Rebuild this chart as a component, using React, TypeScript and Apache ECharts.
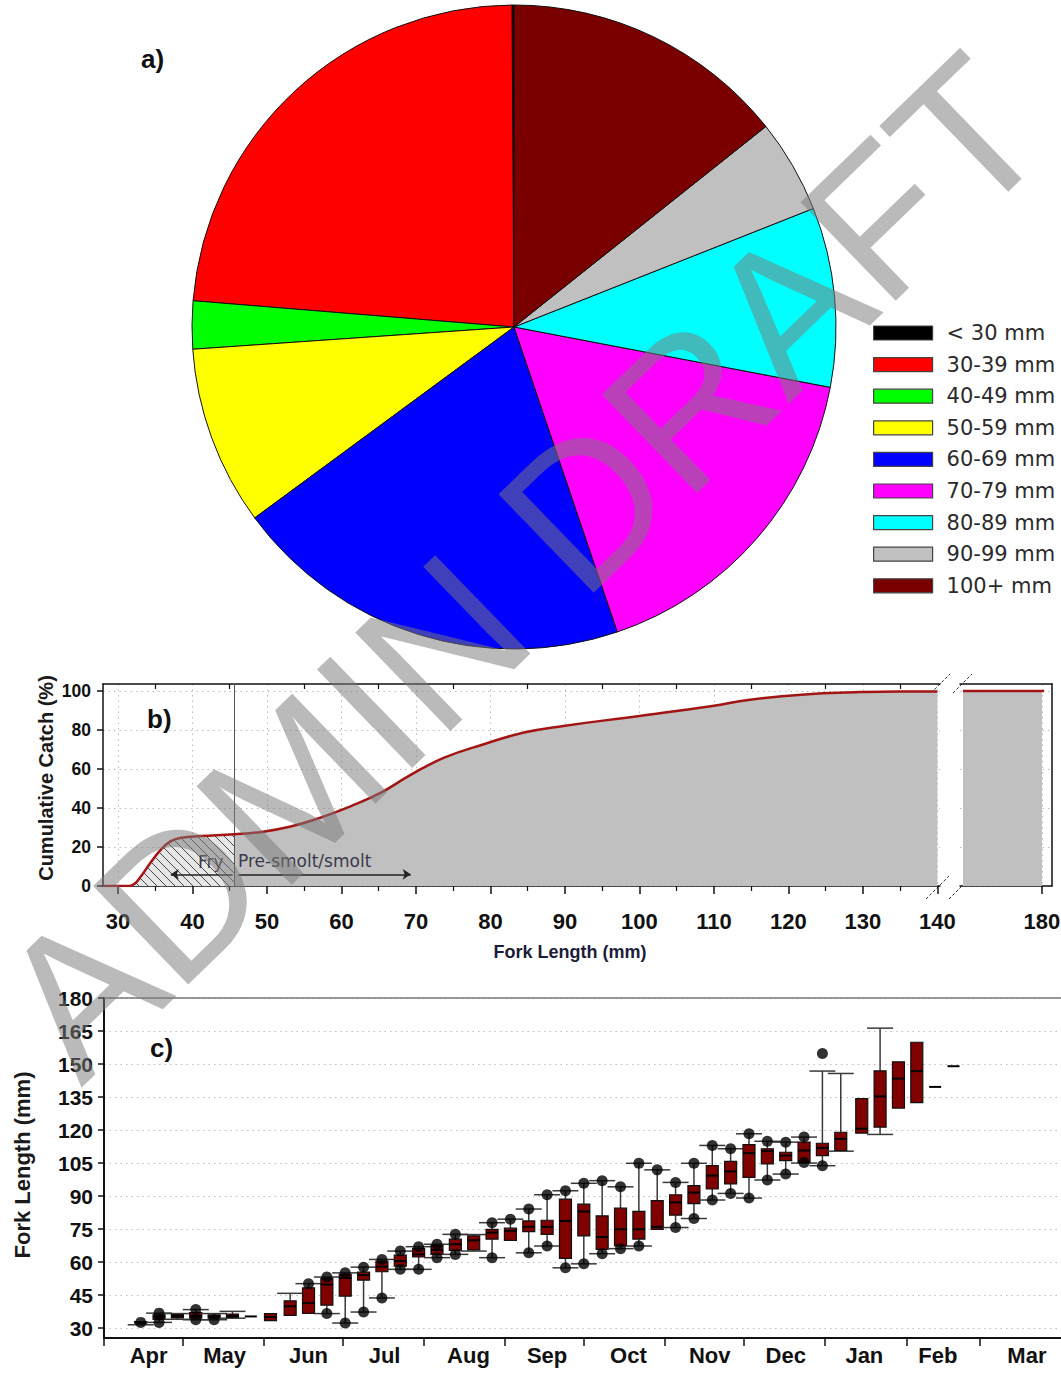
import React, { useEffect, useRef } from "react";
import * as echarts from "echarts";

// ---------- panel a: size-class shares (%) ----------
const PIE_LABELS = ["< 30 mm", "30-39 mm", "40-49 mm", "50-59 mm", "60-69 mm", "70-79 mm", "80-89 mm", "90-99 mm", "100+ mm"];
const PIE_SHARES = [0.1, 23.6, 2.4, 9.0, 20.1, 16.8, 9.0, 4.7, 14.3];
const PIE_COLORS = ["#000000", "#ff0000", "#00ff00", "#ffff00", "#0000ff", "#ff00ff", "#00ffff", "#c0c0c0", "#7a0000"];

// ---------- panel b: cumulative catch ----------
const CUM_LENGTH = [28, 31.5, 32.2, 33.1, 34.4, 35.8, 37.1, 38.5, 41.1, 45.6, 49.2, 53.2, 57.2, 61.3, 65.3, 69.3, 73.8, 79.1, 84.5, 89.8, 100, 109.8, 114.6, 119.6, 124.6, 129.6, 135, 140];
const CUM_PCT = [0, 0, 1, 5, 12, 18.8, 23, 24.8, 25.6, 26.5, 27.7, 30.5, 35.1, 41, 47.9, 57, 65.8, 72.7, 78.7, 82.1, 87.2, 92.3, 95.4, 97.4, 98.8, 99.5, 99.8, 99.8];
const CUM_TAIL_LENGTH = [169.4, 180.3];
const CUM_TAIL_PCT = [100, 100];
const FRY_CUTOFF = 45.6;
const HATCH_START = 31.5;
const B_X_TICKS = [30, 40, 50, 60, 70, 80, 90, 100, 110, 120, 130, 140];
const B_X_MINOR = [35, 45, 55, 65, 75, 85, 95, 105, 115, 125, 135];
const B_TAIL_TICKS = [180];
const B_Y_TICKS = [0, 20, 40, 60, 80, 100];

// ---------- panel c: weekly fork length box plots (day 0 = 1 Apr) ----------
const MONTHS = ["Apr", "May", "Jun", "Jul", "Aug", "Sep", "Oct", "Nov", "Dec", "Jan", "Feb", "Mar"];
const MONTH_STARTS = [0, 30, 61, 91, 122, 153, 183, 214, 244, 275, 306, 334];
const MONTH_LABEL_POS = [17, 46, 78, 107, 139, 169, 200, 231, 260, 290, 318, 352];
const C_Y_TICKS = [30, 45, 60, 75, 90, 105, 120, 135, 150, 165, 180];

const BOX_DAYS = [14, 21, 28, 35, 42, 49, 56, 63.5, 71, 78, 85, 92, 99, 106, 113, 120, 127, 134, 141, 148, 155, 162, 169, 176, 183, 190, 197, 204, 211, 218, 225, 232, 239, 246, 253, 260, 267, 274, 281, 289, 296, 303, 310, 317, 324];
const BOX_LOW = [31.5, 32.6, 34.0, 33.8, 33.8, 34.5, 35.3, 33.4, 35.8, 36.7, 36.6, 32.3, 37.3, 43.7, 56.7, 56.7, 62.0, 63.5, 65.0, 62.0, 69.9, 64.2, 67.3, 57.4, 59.2, 63.8, 66.1, 67.3, 74.9, 75.7, 79.8, 88.2, 91.2, 89.1, 97.3, 100.0, 105.0, 103.8, 110.4, 118.6, 118.0, 130.0, 132.5, 139.6, 149.0];
const BOX_Q1 = [32.2, 34.0, 34.6, 34.5, 34.5, 34.9, 35.3, 33.4, 35.8, 36.7, 40.4, 44.5, 51.8, 55.6, 58.2, 62.3, 63.5, 65.3, 65.5, 70.4, 69.9, 73.8, 72.6, 61.7, 71.9, 65.8, 67.3, 70.4, 74.9, 81.3, 86.6, 93.2, 95.5, 98.5, 104.6, 106.1, 105.3, 108.4, 110.7, 118.6, 121.3, 130.0, 132.5, 139.6, 149.0];
const BOX_MEDIAN = [32.6, 35.2, 35.4, 35.5, 35.2, 35.6, 35.3, 35.0, 39.9, 41.4, 49.8, 52.8, 54.1, 57.9, 60.5, 63.5, 65.5, 68.1, 69.9, 73.4, 74.2, 76.0, 76.0, 78.7, 83.0, 71.4, 74.9, 74.9, 76.0, 87.1, 91.6, 99.3, 101.2, 109.5, 110.5, 108.4, 110.7, 111.9, 116.0, 120.6, 135.3, 143.4, 146.8, 139.6, 149.0];
const BOX_Q3 = [33.0, 36.0, 36.1, 37.0, 36.0, 36.4, 35.3, 36.6, 42.4, 48.3, 52.6, 54.4, 55.4, 60.5, 63.2, 66.2, 67.5, 70.4, 71.9, 74.9, 75.4, 78.7, 79.0, 88.6, 86.3, 81.0, 84.5, 83.0, 87.9, 90.6, 94.7, 103.8, 105.8, 113.4, 111.5, 109.9, 114.5, 114.0, 119.0, 134.3, 146.9, 151.0, 159.9, 139.6, 149.0];
const BOX_HIGH = [33.0, 36.8, 36.6, 38.4, 36.6, 37.6, 35.3, 36.6, 45.8, 50.2, 53.2, 55.1, 57.7, 61.2, 65.0, 67.0, 68.1, 72.6, 72.5, 77.9, 79.5, 84.1, 90.6, 92.4, 95.8, 97.0, 94.2, 104.9, 101.9, 96.2, 104.9, 113.0, 111.5, 118.3, 114.9, 114.5, 116.8, 146.8, 145.7, 134.3, 166.3, 151.0, 159.9, 139.6, 149.0];
const DOTS = [
  [14, 32.6], [21, 32.6], [21, 36.8], [35, 33.8], [35, 38.4], [42, 33.8], [78, 50.2], [85, 36.6], [85, 53.2],
  [92, 32.3], [92, 55.1], [99, 37.3], [99, 57.7], [106, 43.7], [106, 61.2], [113, 56.7], [113, 65.0],
  [120, 56.7], [120, 67.0], [127, 62.0], [127, 68.1], [134, 63.5], [134, 72.6], [148, 62.0], [148, 77.9],
  [155, 79.5], [162, 64.2], [162, 84.1], [169, 67.3], [169, 90.6], [176, 57.4], [176, 92.4], [183, 59.2],
  [183, 95.8], [190, 63.8], [190, 97.0], [197, 66.1], [197, 94.2], [204, 67.3], [204, 104.9], [211, 101.9],
  [218, 75.7], [218, 96.2], [225, 79.8], [225, 104.9], [232, 88.2], [232, 113.0], [239, 91.2], [239, 111.5],
  [246, 89.1], [246, 118.3], [253, 97.3], [253, 114.9], [260, 100.0], [260, 114.5], [267, 105.3], [267, 116.8],
  [274, 103.8], [274, 154.8],
];

const ARIAL = '"Liberation Sans", Arial, sans-serif';
const DEJAVU = '"DejaVu Sans", sans-serif';
const DOTTED = { color: "#bdbdbd", width: 1, type: [1.5, 4] as any };

function makeHatch(): HTMLCanvasElement {
  const c = document.createElement("canvas");
  c.width = 9;
  c.height = 9;
  const ctx = c.getContext("2d")!;
  ctx.fillStyle = "#e6e6e6";
  ctx.fillRect(0, 0, 9, 9);
  ctx.strokeStyle = "#4a4a4a";
  ctx.lineWidth = 1;
  ctx.beginPath();
  ctx.moveTo(-1, -1);
  ctx.lineTo(10, 10);
  ctx.stroke();
  return c;
}

function renderBox(params: any, api: any) {
  const day = api.value(0);
  const lo = api.value(1), q1 = api.value(2), med = api.value(3), q3 = api.value(4), hi = api.value(5);
  const pLo = api.coord([day, lo]);
  const x = pLo[0];
  const yLo = pLo[1];
  const yQ1 = api.coord([day, q1])[1];
  const yMed = api.coord([day, med])[1];
  const yQ3 = api.coord([day, q3])[1];
  const yHi = api.coord([day, hi])[1];
  const bw = 12, cw = 26;
  const ws = { stroke: "#3a3a3a", lineWidth: 1.5 };
  const children: any[] = [];
  if (hi > q3) {
    children.push({ type: "line", shape: { x1: x, y1: yQ3, x2: x, y2: yHi }, style: ws });
    children.push({ type: "line", shape: { x1: x - cw / 2, y1: yHi, x2: x + cw / 2, y2: yHi }, style: ws });
  }
  if (lo < q1) {
    children.push({ type: "line", shape: { x1: x, y1: yQ1, x2: x, y2: yLo }, style: ws });
    children.push({ type: "line", shape: { x1: x - cw / 2, y1: yLo, x2: x + cw / 2, y2: yLo }, style: ws });
  }
  if (q3 > q1) {
    children.push({
      type: "rect",
      shape: { x: x - bw / 2, y: yQ3, width: bw, height: yQ1 - yQ3 },
      style: { fill: "#800000", stroke: "#111", lineWidth: 1.2 },
    });
  }
  children.push({ type: "line", shape: { x1: x - bw / 2, y1: yMed, x2: x + bw / 2, y2: yMed }, style: { stroke: "#000", lineWidth: 2 } });
  return { type: "group", children };
}

export default function App() {
  const ref = useRef<HTMLDivElement>(null);

  useEffect(() => {
    if (!ref.current) return;
    const chart = echarts.init(ref.current, null, { renderer: "svg" });
    const hatch = makeHatch();

    const cum = CUM_LENGTH.map((x, i) => [x, CUM_PCT[i]]);
    const hatchData = cum.filter((p) => p[0] >= HATCH_START && p[0] <= FRY_CUTOFF);
    const grayData = cum.filter((p) => p[0] >= FRY_CUTOFF);
    const tail = CUM_TAIL_LENGTH.map((x, i) => [x, CUM_TAIL_PCT[i]]);
    const boxes = BOX_DAYS.map((d, i) => [d, BOX_LOW[i], BOX_Q1[i], BOX_MEDIAN[i], BOX_Q3[i], BOX_HIGH[i]]);

    const blackLine = { lineStyle: { color: "#111", width: 1.5 } };
    const SMOOTH = 0.45;

    const option: any = {
      animation: false,
      backgroundColor: "#ffffff",
      legend: {
        show: true,
        orient: "vertical",
        left: 873,
        top: 322,
        padding: 0,
        itemWidth: 59,
        itemHeight: 14,
        itemGap: 9.6,
        icon: "rect",
        selectedMode: false,
        data: PIE_LABELS,
        itemStyle: { borderColor: "#444", borderWidth: 1.2 },
        textStyle: { fontFamily: DEJAVU, fontSize: 21, color: "#2b2b2b", lineHeight: 22, padding: [0, 0, 0, 9] },
      },
      grid: [
        { left: 103, top: 684, width: 837, height: 202, outerBoundsMode: "none" },
        { left: 960, top: 684, width: 92, height: 202, outerBoundsMode: "none" },
        { left: 104, top: 998, width: 957, height: 340, outerBoundsMode: "none" },
      ],
      xAxis: [
        {
          gridIndex: 0, type: "value", min: 28, max: 140.35, position: "bottom",
          axisLine: { show: true, ...blackLine },
          axisTick: { show: true, customValues: B_X_TICKS, length: 8, lineStyle: { color: "#111", width: 1.5 } },
          axisLabel: { customValues: B_X_TICKS, fontFamily: ARIAL, fontWeight: "bold", fontSize: 22, color: "#111", margin: 24 },
          splitLine: { show: true, lineStyle: DOTTED },
        },
        {
          gridIndex: 0, type: "value", min: 28, max: 140.35, position: "bottom",
          axisLine: { show: false },
          axisTick: { show: true, customValues: B_X_MINOR, length: 5, lineStyle: { color: "#111", width: 1.2 } },
          axisLabel: { show: false },
          splitLine: { show: false },
        },
        {
          gridIndex: 0, type: "value", min: 28, max: 140.35, position: "top",
          axisLine: { show: true, ...blackLine },
          axisTick: { show: true, inside: true, customValues: B_X_MINOR, length: 5, lineStyle: { color: "#111", width: 1.2 } },
          axisLabel: { show: false },
          splitLine: { show: false },
        },
        {
          gridIndex: 1, type: "value", min: 169, max: 181.35, position: "bottom",
          axisLine: { show: true, ...blackLine },
          axisTick: { show: true, customValues: B_TAIL_TICKS, length: 8, lineStyle: { color: "#111", width: 1.5 } },
          axisLabel: { customValues: B_TAIL_TICKS, fontFamily: ARIAL, fontWeight: "bold", fontSize: 22, color: "#111", margin: 24 },
          splitLine: { show: true, lineStyle: DOTTED },
        },
        {
          gridIndex: 1, type: "value", min: 169, max: 181.35, position: "top",
          axisLine: { show: true, ...blackLine },
          axisTick: { show: false },
          axisLabel: { show: false },
          splitLine: { show: false },
        },
        {
          gridIndex: 2, type: "value", min: 0, max: 365, position: "bottom",
          axisLine: { show: true, lineStyle: { color: "#111", width: 2 } },
          axisTick: { show: true, customValues: MONTH_STARTS, length: 8, lineStyle: { color: "#111", width: 1.5 } },
          axisLabel: {
            customValues: MONTH_LABEL_POS,
            formatter: (v: number) => MONTHS[MONTH_LABEL_POS.indexOf(v)] ?? "",
            fontFamily: ARIAL, fontWeight: "bold", fontSize: 22, color: "#111", margin: 6,
          },
          splitLine: { show: false },
        },
        {
          gridIndex: 2, type: "value", min: 0, max: 365, position: "top",
          axisLine: { show: true, lineStyle: { color: "#777", width: 1.5 } },
          axisTick: { show: false },
          axisLabel: { show: false },
          splitLine: { show: false },
        },
      ],
      yAxis: [
        {
          gridIndex: 0, type: "value", min: 0, max: 103.6, position: "left",
          axisLine: { show: true, ...blackLine },
          axisTick: { show: true, customValues: B_Y_TICKS, length: 6, lineStyle: { color: "#111", width: 1.5 } },
          axisLabel: { customValues: B_Y_TICKS, fontFamily: ARIAL, fontWeight: "bold", fontSize: 17.5, color: "#111", margin: 12 },
          splitLine: { show: true, lineStyle: DOTTED },
        },
        {
          gridIndex: 1, type: "value", min: 0, max: 103.6, position: "right",
          axisLine: { show: true, ...blackLine },
          axisTick: { show: false, customValues: B_Y_TICKS },
          axisLabel: { show: false },
          splitLine: { show: true, lineStyle: DOTTED },
        },
        {
          gridIndex: 2, type: "value", min: 25.5, max: 180, position: "left",
          axisLine: { show: true, lineStyle: { color: "#111", width: 2 } },
          axisTick: { show: true, customValues: C_Y_TICKS, length: 6, lineStyle: { color: "#111", width: 1.5 } },
          axisLabel: { customValues: C_Y_TICKS, fontFamily: ARIAL, fontWeight: "bold", fontSize: 21, color: "#111", margin: 11 },
          splitLine: { show: true, lineStyle: DOTTED },
        },
      ],
      series: [
        {
          type: "pie",
          center: [514, 327],
          radius: 322,
          startAngle: 90,
          clockwise: false,
          silent: true,
          label: { show: false },
          labelLine: { show: false },
          emphasis: { disabled: true },
          itemStyle: { borderColor: "#111", borderWidth: 1 },
          data: PIE_LABELS.map((name, i) => ({ name, value: PIE_SHARES[i], itemStyle: { color: PIE_COLORS[i] } })),
        },
        {
          type: "line", xAxisIndex: 2, yAxisIndex: 0, data: hatchData, showSymbol: false, symbol: "none",
          smooth: SMOOTH, silent: true, z: 2,
          lineStyle: { width: 0, opacity: 0 },
          areaStyle: { color: { image: hatch, repeat: "repeat" }, opacity: 1 },
          markLine: {
            silent: true,
            symbol: ["none", "none"],
            label: { show: false },
            lineStyle: { color: "#555", width: 1, type: "solid" },
            data: [{ xAxis: FRY_CUTOFF }],
          },
        },
        {
          type: "line", xAxisIndex: 2, yAxisIndex: 0, data: grayData, showSymbol: false, symbol: "none",
          smooth: SMOOTH, silent: true, z: 2,
          lineStyle: { width: 0, opacity: 0 },
          areaStyle: { color: "#c0c0c0", opacity: 1 },
        },
        {
          type: "line", xAxisIndex: 2, yAxisIndex: 0, data: cum, showSymbol: false, symbol: "none",
          smooth: SMOOTH, silent: true, z: 5,
          lineStyle: { color: "#a31515", width: 2.5 },
          markLine: {
            silent: true,
            symbol: ["none", "arrow"],
            symbolSize: 8,
            label: { show: false },
            lineStyle: { color: "#222", width: 1.5, type: "solid" },
            data: [
              [{ coord: [45.4, 6] }, { coord: [37.1, 6] }],
              [{ coord: [46.2, 6] }, { coord: [69.3, 6] }],
            ],
          },
        },
        {
          type: "line", xAxisIndex: 4, yAxisIndex: 1, data: tail.map((p) => [Math.min(p[0], 180), p[1]]),
          showSymbol: false, symbol: "none", silent: true, z: 2,
          lineStyle: { width: 0, opacity: 0 },
          areaStyle: { color: "#c0c0c0", opacity: 1 },
        },
        {
          type: "line", xAxisIndex: 4, yAxisIndex: 1, data: tail, showSymbol: false, symbol: "none",
          silent: true, z: 5, lineStyle: { color: "#a31515", width: 2.5 },
        },
        {
          type: "custom", xAxisIndex: 5, yAxisIndex: 2, data: boxes, renderItem: renderBox,
          encode: { x: 0, y: [1, 2, 3, 4, 5] }, silent: true, z: 3, clip: false,
        },
        {
          type: "scatter", xAxisIndex: 5, yAxisIndex: 2, data: DOTS, symbol: "circle", symbolSize: 11,
          itemStyle: { color: "#000" }, silent: true, z: 4,
        },
      ],
      graphic: [
        { type: "text", x: 141, y: 46, style: { text: "a)", fontFamily: ARIAL, fontWeight: "bold", fontSize: 26, fill: "#111" } },
        { type: "text", x: 147, y: 706, style: { text: "b)", fontFamily: ARIAL, fontWeight: "bold", fontSize: 26, fill: "#111" } },
        { type: "text", x: 150, y: 1035, style: { text: "c)", fontFamily: ARIAL, fontWeight: "bold", fontSize: 26, fill: "#111" } },
        {
          type: "text", x: 46, y: 778, rotation: Math.PI / 2,
          style: { text: "Cumulative Catch (%)", fontFamily: ARIAL, fontWeight: "bold", fontSize: 20, fill: "#1a1a1a", align: "center", verticalAlign: "middle" },
        },
        {
          type: "text", x: 570, y: 952,
          style: { text: "Fork Length (mm)", fontFamily: ARIAL, fontWeight: "bold", fontSize: 18, fill: "#1c1c3a", align: "center", verticalAlign: "middle" },
        },
        {
          type: "text", x: 22, y: 1165, rotation: Math.PI / 2,
          style: { text: "Fork Length (mm)", fontFamily: ARIAL, fontWeight: "bold", fontSize: 22, fill: "#1a1a1a", align: "center", verticalAlign: "middle" },
        },
        { type: "text", x: 198, y: 862, z: 10, style: { text: "Fry", fontFamily: DEJAVU, fontSize: 17, fill: "#3a3a4a", verticalAlign: "middle" } },
        { type: "text", x: 238, y: 861, z: 10, style: { text: "Pre-smolt/smolt", fontFamily: DEJAVU, fontSize: 17, fill: "#3a3a4a", verticalAlign: "middle" } },
        { type: "line", shape: { x1: 931, y1: 693, x2: 950, y2: 674 }, style: { stroke: "#333", lineWidth: 1, lineDash: [3, 2] } },
        { type: "line", shape: { x1: 953, y1: 693, x2: 972, y2: 674 }, style: { stroke: "#333", lineWidth: 1, lineDash: [3, 2] } },
        { type: "line", shape: { x1: 926, y1: 899, x2: 949, y2: 876 }, style: { stroke: "#333", lineWidth: 1, lineDash: [3, 2] } },
        { type: "line", shape: { x1: 949, y1: 899, x2: 968, y2: 880 }, style: { stroke: "#333", lineWidth: 1, lineDash: [3, 2] } },
        {
          type: "text", x: 522, y: 566, rotation: 0.768, z: 100, silent: true,
          style: { text: "ADMIN DRAFT", fontFamily: ARIAL, fontSize: 199, fill: "rgba(122,122,122,0.52)", align: "center", verticalAlign: "middle" },
        },
      ],
    };

    chart.setOption(option);
    return () => chart.dispose();
  }, []);

  return <div ref={ref} style={{ position: "absolute", left: 0, top: 0, width: 1061, height: 1374 }} />;
}
